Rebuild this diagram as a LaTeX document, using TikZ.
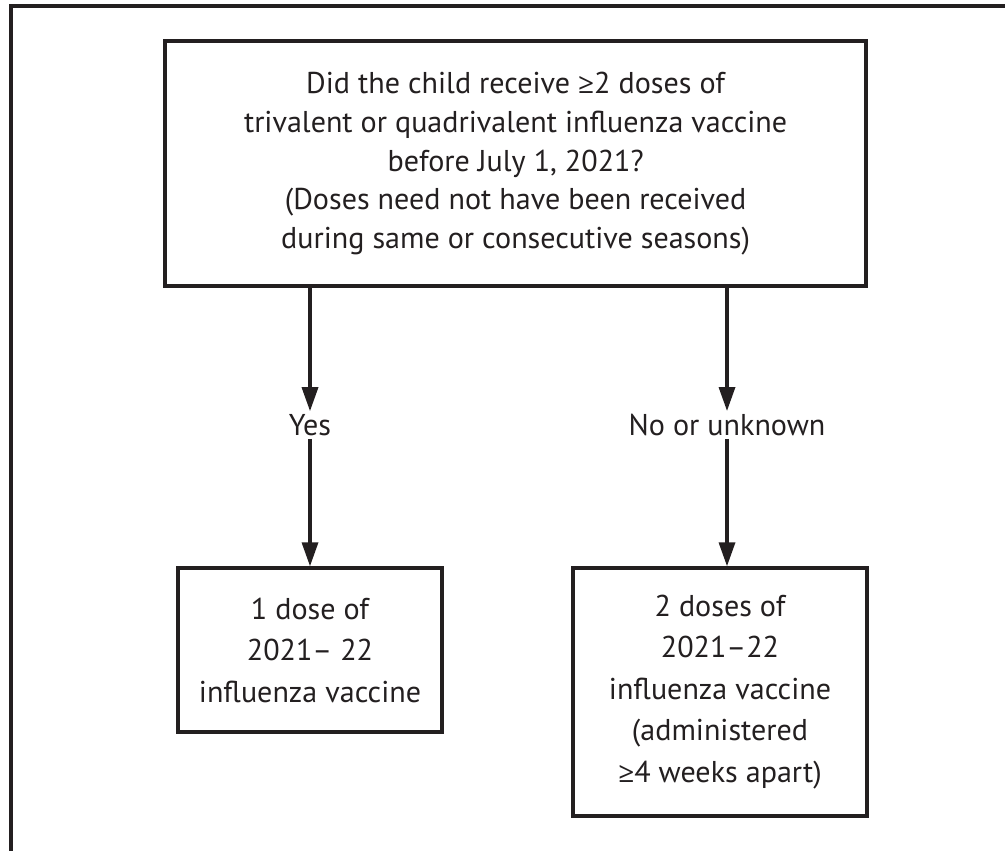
\documentclass[tikz,border=0pt]{standalone}
\usepackage{fontspec}
\setmainfont{PT Sans}
\newfontfamily\symfont{Open Sans}
\usetikzlibrary{arrows.meta,positioning,calc}
\definecolor{ink}{HTML}{231F20}
\newcommand{\PicW}{25.125}
\newcommand{\PicH}{21.25}
\newcommand{\atleast}{{\symfont\fontsize{20}{20}\selectfont ≥}}

\begin{document}
\begin{tikzpicture}[ink,
    font=\fontsize{21.4}{27.7}\selectfont,
    box/.style={draw=ink, line width=2.4pt, fill=white, align=center, inner sep=0pt},
    outcome/.style={box, font=\fontsize{21.4}{29.5}\selectfont},
    answer/.style={inner sep=2pt, font=\fontsize{21.4}{24}\selectfont},
    flow/.style={-{Triangle[length=0.6cm, width=0.4cm]}, line width=2.4pt, draw=ink},
  ]
% --- Page and outer frame -----------------------------------------------------
\useasboundingbox (0,0) rectangle (\PicW,-\PicH);
\clip (0,0) rectangle (\PicW,-\PicH);
\draw[line width=2.6pt] (0.275,-0.15) rectangle (\PicW+2,-\PicH-2);

% --- Question -----------------------------------------------------------------
\node[box, minimum width=17.525cm, minimum height=6.125cm] (question) at (12.89,-4.09)
  {Did the child receive \atleast2 doses of\\
   trivalent or quadrivalent influenza vaccine\\
   before July 1, 2021?\\
   (Doses need not have been received\\
   during same or consecutive seasons)};

% --- Answers ------------------------------------------------------------------
\node[answer] (yes) at (7.75,-10.625) {Yes};
\node[answer] (no) at (18.175,-10.625) {No or unknown};

% --- Outcomes -----------------------------------------------------------------
\node[outcome, minimum width=6.6cm, minimum height=4.1cm] (onedose) at (7.75,-16.25)
  {1 dose of\\ 2021– 22\\ influenza vaccine};
\node[outcome, minimum width=7.35cm, minimum height=6.2cm] (twodoses) at (18.0,-17.3)
  {2 doses of\\ 2021–22\\ influenza vaccine\\ (administered\\ \atleast4 weeks apart)};

% --- Connectors ---------------------------------------------------------------
\draw[flow] (question.south -| yes) -- (yes.north);
\draw[flow] (yes.south) -- (yes.south |- onedose.north);
\draw[flow] (question.south -| no) -- (no.north);
\draw[flow] (no.south) -- (no.south |- twodoses.north);
\end{tikzpicture}
\end{document}
